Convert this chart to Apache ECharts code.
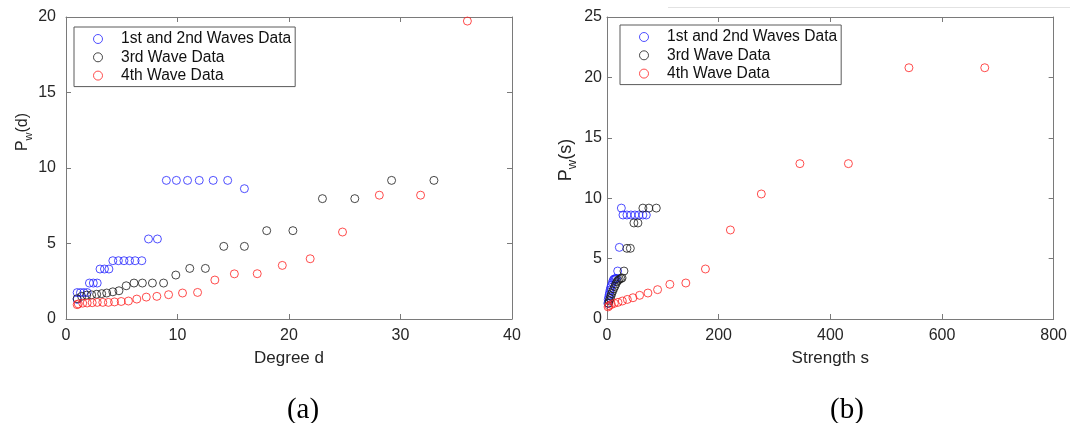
<!DOCTYPE html>
<html>
<head>
<meta charset="utf-8">
<script src="https://cdn.jsdelivr.net/npm/echarts@6/dist/echarts.min.js"></script>
<style>
  html, body { margin: 0; padding: 0; background: #fff; }
  #chart { width: 1070px; height: 423px; }
</style>
</head>
<body>
<div id="chart"></div>
<script>
// ---- Panel (a): P_w(d) vs degree d ----
const seriesNames = ['1st and 2nd Waves Data', '3rd Wave Data', '4th Wave Data'];

const aWave12D = [1, 1, 1.3, 1.6, 1.9, 2.1, 2.45, 2.8, 3.05, 3.45, 3.85, 4.2, 4.7, 5.2, 5.7, 6.2, 6.8, 7.4, 8.2, 9, 9.9, 10.9, 11.95, 13.2, 14.5, 16];
const aWave12P = [1.3, 1.75, 1.75, 1.75, 1.75, 2.38, 2.38, 2.38, 3.31, 3.31, 3.31, 3.86, 3.86, 3.86, 3.86, 3.86, 3.86, 5.3, 5.3, 9.18, 9.18, 9.18, 9.18, 9.18, 9.18, 8.63];

const aWave3D = [1, 1.4, 1.85, 2.3, 2.75, 3.2, 3.65, 4.2, 4.75, 5.4, 6.1, 6.85, 7.75, 8.75, 9.85, 11.1, 12.5, 14.15, 16, 18, 20.35, 23, 25.9, 29.2, 33];
const aWave3P = [1.35, 1.5, 1.58, 1.6, 1.64, 1.68, 1.72, 1.8, 1.87, 2.2, 2.38, 2.38, 2.38, 2.38, 2.91, 3.35, 3.35, 4.81, 4.81, 5.85, 5.85, 7.97, 7.97, 9.18, 9.18];

const aWave4D = [1, 1.1, 1.5, 1.9, 2.35, 2.8, 3.3, 3.8, 4.35, 4.95, 5.6, 6.35, 7.2, 8.15, 9.2, 10.45, 11.8, 13.35, 15.1, 17.15, 19.4, 21.9, 24.8, 28.1, 31.8, 36];
const aWave4P = [0.95, 1.0, 1.05, 1.06, 1.08, 1.1, 1.1, 1.1, 1.13, 1.16, 1.19, 1.32, 1.45, 1.5, 1.61, 1.72, 1.76, 2.58, 2.99, 3.0, 3.55, 3.99, 5.76, 8.2, 8.2, 19.73];

// ---- Panel (b): P_w(s) vs strength s ----
const bWave12S = [1.5, 2.2, 3.0, 3.8, 4.6, 5.5, 6.5, 8, 9.5, 11, 12.5, 14, 15.5, 17, 19.1, 22.1, 25.7, 28.6, 35.7, 42.9, 50, 57.2, 64.3, 70.4];
const bWave12P = [1.3, 1.6, 1.8, 2.0, 2.2, 2.4, 2.6, 2.8, 3.0, 3.2, 3.3, 3.3, 3.35, 3.35, 3.97, 5.93, 9.18, 8.61, 8.61, 8.61, 8.61, 8.61, 8.61, 8.61];

const bWave3S = [3, 4, 5.5, 7, 8.5, 10, 12, 14, 16, 18, 20, 22, 25, 27, 30.4, 35.7, 41.8, 48.2, 55.4, 64.3, 75, 88.3];
const bWave3P = [1.3, 1.5, 1.7, 1.9, 2.1, 2.3, 2.5, 2.7, 2.9, 3.1, 3.2, 3.3, 3.35, 3.4, 3.97, 5.85, 5.85, 7.95, 7.95, 9.18, 9.18, 9.18];

const bWave4S = [2, 3.6, 7.8, 13.2, 19.7, 27.5, 36.4, 46.5, 58.4, 73.3, 90.6, 112.6, 141.2, 176.3, 221, 276.4, 345.5, 432.4, 540.8, 676.6];
const bWave4P = [1.0, 1.1, 1.2, 1.3, 1.38, 1.49, 1.62, 1.76, 1.96, 2.15, 2.43, 2.87, 2.98, 4.14, 7.37, 10.35, 12.86, 12.86, 20.8, 20.8];

const colors = ['#2424ff', '#1a1a1a', '#ff2020'];
const zip = (xs, ys) => xs.map((x, i) => [x, ys[i]]);

const frameColor = '#7a7a7a';
const textColor = '#262626';
const sansFont = '"Liberation Sans", Arial, sans-serif';

function mkAxis(extra) {
  return Object.assign({
    type: 'value',
    axisLine: { show: true, onZero: false, lineStyle: { color: frameColor, width: 1 } },
    axisTick: { show: true, inside: true, length: 5, lineStyle: { color: frameColor } },
    splitLine: { show: false },
    axisLabel: { color: textColor, fontSize: 16, fontFamily: sansFont },
    nameTextStyle: { color: textColor, fontSize: 17, fontFamily: sansFont }
  }, extra);
}

const pName = (size, shift) => ({
  color: textColor, fontFamily: sansFont,
  padding: [0, 0, 0, shift],
  rich: {
    p: { fontSize: size, lineHeight: size + 8, verticalAlign: 'middle', color: textColor, fontFamily: sansFont },
    w: { fontSize: Math.round(size * 0.7), lineHeight: Math.round(size * 0.7), verticalAlign: 'bottom', color: textColor, fontFamily: sansFont }
  }
});

function scatter(name, data, xi, yi, c) {
  return {
    name: name, type: 'scatter', xAxisIndex: xi, yAxisIndex: yi, data: data,
    symbol: 'circle', symbolSize: 8,
    itemStyle: { color: 'rgba(255,255,255,0)', borderColor: c, borderWidth: 1 },
    emphasis: { disabled: true }, animation: false
  };
}

const legendBase = {
  orient: 'vertical',
  itemWidth: 36, itemHeight: 9, itemGap: 2.3,
  padding: [4, 4, 3, 19],
  borderColor: '#5a5a5a', borderWidth: 1,
  backgroundColor: '#fff',
  textStyle: { fontSize: 15.6, lineHeight: 16, color: '#111', fontFamily: sansFont },
  data: seriesNames.map(n => ({ name: n, icon: 'circle' })),
  itemStyle: { color: 'rgba(255,255,255,0)', borderWidth: 1 },
  selectedMode: false
};

const chart = echarts.init(document.getElementById('chart'), null, { renderer: 'canvas' });
chart.setOption({
  animation: false,
  backgroundColor: '#fff',
  grid: [
    { left: 66, right: 558, top: 17, bottom: 104 },
    { left: 607, right: 15, top: 17, bottom: 104 }
  ],
  xAxis: [
    mkAxis({ gridIndex: 0, min: 0, max: 40, interval: 10, position: 'bottom',
      axisLabel: { color: textColor, fontSize: 16, fontFamily: sansFont, margin: 9 },
      name: 'Degree d', nameLocation: 'middle', nameGap: 31 }),
    mkAxis({ gridIndex: 0, min: 0, max: 40, interval: 10, position: 'top', axisLabel: { show: false } }),
    mkAxis({ gridIndex: 1, min: 0, max: 800, interval: 200, position: 'bottom',
      axisLabel: { color: textColor, fontSize: 16, fontFamily: sansFont, margin: 9 },
      name: 'Strength s', nameLocation: 'middle', nameGap: 31 }),
    mkAxis({ gridIndex: 1, min: 0, max: 800, interval: 200, position: 'top', axisLabel: { show: false } })
  ],
  yAxis: [
    mkAxis({ gridIndex: 0, min: 0, max: 20, interval: 5, position: 'left',
      axisLabel: { color: textColor, fontSize: 16, fontFamily: sansFont, margin: 10 },
      name: '{p|P}{w|w}{p|(d)}', nameLocation: 'middle', nameRotate: 90, nameGap: 27,
      nameTextStyle: pName(16, 72) }),
    mkAxis({ gridIndex: 0, min: 0, max: 20, interval: 5, position: 'right', axisLabel: { show: false } }),
    mkAxis({ gridIndex: 1, min: 0, max: 25, interval: 5, position: 'left',
      axisLabel: { color: textColor, fontSize: 16, fontFamily: sansFont, margin: 5 },
      name: '{p|P}{w|w}{p|(s)}', nameLocation: 'middle', nameRotate: 90, nameGap: 28,
      nameTextStyle: pName(18, 16) }),
    mkAxis({ gridIndex: 1, min: 0, max: 25, interval: 5, position: 'right', axisLabel: { show: false } })
  ],
  legend: [
    Object.assign({}, legendBase, { left: 74, top: 27 }),
    Object.assign({}, legendBase, { left: 620, top: 25 })
  ],
  title: [
    { text: '(a)', left: 298, top: 391, textAlign: 'center',
      textStyle: { fontFamily: '"Liberation Serif", "Times New Roman", serif', fontSize: 29, fontWeight: 'normal', color: '#000' } },
    { text: '(b)', left: 842, top: 391, textAlign: 'center',
      textStyle: { fontFamily: '"Liberation Serif", "Times New Roman", serif', fontSize: 29, fontWeight: 'normal', color: '#000' } }
  ],
  graphic: [
    { type: 'line', shape: { x1: 668, y1: 7.5, x2: 1070, y2: 7.5 }, style: { stroke: '#e2e2e2', lineWidth: 1 }, silent: true }
  ],
  series: [
    scatter(seriesNames[0], zip(aWave12D, aWave12P), 0, 0, colors[0]),
    scatter(seriesNames[1], zip(aWave3D, aWave3P), 0, 0, colors[1]),
    scatter(seriesNames[2], zip(aWave4D, aWave4P), 0, 0, colors[2]),
    scatter(seriesNames[0], zip(bWave12S, bWave12P), 2, 2, colors[0]),
    scatter(seriesNames[1], zip(bWave3S, bWave3P), 2, 2, colors[1]),
    scatter(seriesNames[2], zip(bWave4S, bWave4P), 2, 2, colors[2])
  ]
});
</script>
</body>
</html>
